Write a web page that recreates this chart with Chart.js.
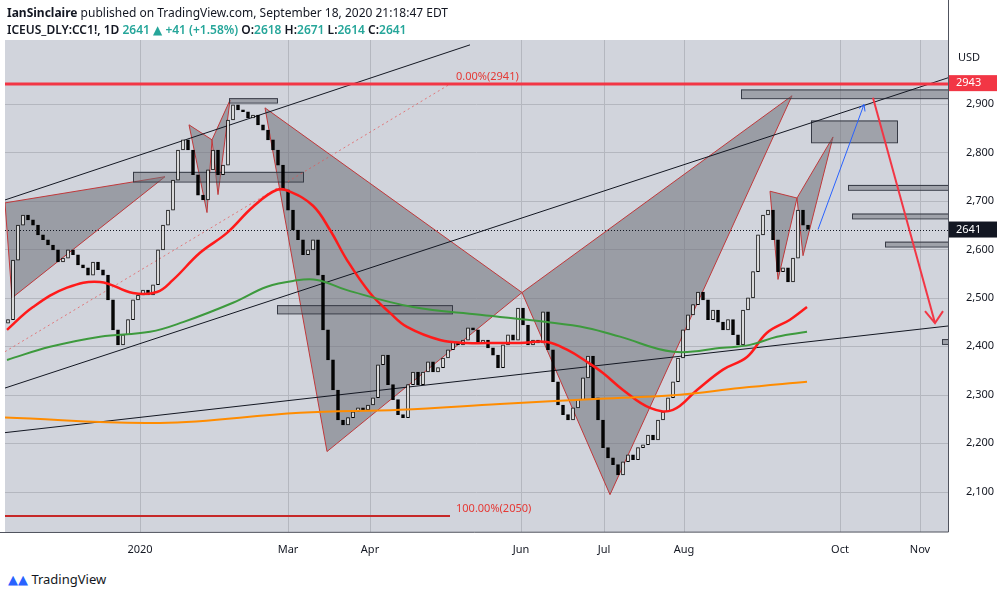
<!DOCTYPE html>
<html>
<head>
<meta charset="utf-8">
<script src="https://cdn.jsdelivr.net/npm/chart.js@4"></script>
<style>
  body { margin: 0; background: #fff; font-family: "Noto Sans", "DejaVu Sans", sans-serif; }
  #wrap { position: relative; width: 998px; height: 597px; }
  #hdr1 { position: absolute; left: 7px; top: 4px; font-size: 12px; color: #131722; }
  #hdr2 { position: absolute; left: 7px; top: 21px; font-size: 12px; color: #131722; font-weight: 600; }
  #hdr2 .g { color: #26a69a; }
  #foot { position: absolute; left: 8px; top: 570px; font-size: 13px; color: #131722; }
  canvas { position: absolute; left: 0; top: 0; }
</style>
</head>
<body>
<div id="wrap">
  <canvas id="c" width="998" height="560"></canvas>
  <div id="hdr1"><b>IanSinclaire</b> published on TradingView.com, September 18, 2020 21:18:47 EDT</div>
  <div id="hdr2">ICEUS_DLY:CC1!, 1D <span class="g">2641 ▲ +41 (+1.58%)</span> O:<span class="g">2618</span> H:<span class="g">2671</span> L:<span class="g">2614</span> C:<span class="g">2641</span></div>
  <div id="foot"><span style="color:#2962ff">&#9650;&#9650;</span> TradingView</div>
</div>
<script>
// daily closes, one bar per slot (Nov 2019 .. 18 Sep 2020)
const closes = [2455,2578,2650,2671,2661,2650,2630,2620,2609,2599,2574,2582,2599,2589,2568,2562,2547,2574,2558,2547,
  2496,2434,2403,2424,2455,2496,2506,2516,2506,2527,2599,2650,2681,2743,2805,2826,2805,2754,2712,2702,
  2764,2805,2754,2774,2867,2898,2888,2884,2871,2877,2857,2846,2826,2805,2774,2723,2681,2640,2620,2589,
  2599,2620,2547,2434,2372,2310,2248,2238,2253,2265,2273,2269,2279,2294,2362,2382,2321,2290,2259,2253,
  2321,2347,2321,2347,2368,2347,2356,2376,2393,2409,2403,2413,2438,2434,2407,2413,2397,2382,2356,2403,
  2424,2413,2479,2444,2403,2413,2407,2471,2393,2327,2279,2259,2248,2273,2290,2335,2380,2294,2248,2191,
  2170,2156,2135,2162,2176,2166,2191,2197,2217,2207,2248,2265,2294,2327,2376,2434,2465,2486,2512,2496,
  2455,2475,2450,2434,2455,2424,2403,2475,2500,2554,2630,2671,2681,2620,2554,2562,2533,2582,2681,2650,2641];
const opens = [2448].concat(closes.slice(0, -1));

// moving averages [slot, price]
const ma20 = [[-0.2,2434],[5,2481],[11.8,2521],[18.4,2533],[25,2510],[29.8,2512],[33,2537],[38.4,2593],[43.8,2634],
  [49,2688],[53.8,2723],[56.4,2719],[61,2690],[64.4,2640],[67.8,2578],[72.4,2510],[76.4,2469],[79.8,2440],[86.4,2413],
  [91.8,2407],[97.8,2407],[102.4,2407],[107.8,2409],[111.8,2393],[115.8,2368],[119,2345],[123,2310],[128.4,2273],
  [133,2269],[137.8,2310],[143,2352],[147.8,2378],[151.8,2428],[156.4,2455],[159.8,2481]];
const ma100 = [[-0.2,2372],[8.4,2399],[18.4,2420],[28.4,2430],[35,2450],[45,2490],[51.8,2523],[57,2535],[61.8,2537],
  [67.8,2516],[81,2481],[94.4,2465],[107.8,2450],[115.8,2438],[122.4,2420],[133,2389],[143,2397],[148.4,2403],
  [153.8,2420],[159.8,2430]];
const ma200 = [[-0.6,2253],[30.4,2242],[58.4,2263],[78.4,2269],[98.4,2281],[118.4,2292],[134.4,2300],[146.4,2314],[159.8,2327]];

const tickSlots = [26.4, 56, 72.4, 102.6, 119.2, 135.2, 166.4, 182.4];
const tickLabels = ['2020', 'Mar', 'Apr', 'Jun', 'Jul', 'Aug', 'Oct', 'Nov'];
const priceTicks = [2100, 2200, 2300, 2400, 2500, 2600, 2700, 2800, 2900];

// drawings in [slot, price]
const trendLines = [
  [[-0.6,2702],[92.4,3022]],
  [[-0.6,2314],[188,2954]],
  [[-0.6,2222],[188,2442]]
];
const patterns = [
  [[-0.6,2696],[31.4,2750],[0.8,2500]],
  [[36.2,2857],[40.8,2826],[39.8,2676]],
  [[40.8,2826],[44.4,2908],[42,2713]],
  [[51.4,2892],[63.8,2183],[102.8,2511]],
  [[102.8,2511],[120.4,2094],[156.8,2917]],
  [[152.4,2720],[154,2538],[157.8,2706]],
  [[157.8,2706],[165,2832],[159,2587]]
];
const boxes = [[44.2,53.8,2912,2903],[25,59,2760,2740],[53.8,88.8,2485,2468],[146.6,188,2930,2912],
  [160.6,177.8,2866,2821],[168,188,2733,2723],[168.8,188,2674,2664],[175.4,188,2616,2606],[186.8,188,2415,2405]];
const fib0 = 2941, fib100 = 2050, fibEnd = 88.4;
const lastPrice = 2641, markPrice = 2943;

const slots = closes.map((_, i) => i);

const drawings = {
  id: 'drawings',
  beforeDatasetsDraw(chart) {
    const { ctx, chartArea: a, scales: { x, y } } = chart;
    const P = p => [x.getPixelForValue(p[0]), y.getPixelForValue(p[1])];
    ctx.save();
    ctx.beginPath(); ctx.rect(a.left, a.top, a.right - a.left, a.bottom - a.top); ctx.clip();
    ctx.fillStyle = '#d1d4dc'; ctx.fillRect(a.left, a.top, a.right - a.left, a.bottom - a.top);
    // grid
    ctx.strokeStyle = '#b4b7bf'; ctx.lineWidth = 1;
    priceTicks.forEach(v => { const yy = Math.round(y.getPixelForValue(v)) + 0.5; ctx.beginPath(); ctx.moveTo(a.left, yy); ctx.lineTo(a.right, yy); ctx.stroke(); });
    tickSlots.forEach(v => { const xx = Math.round(x.getPixelForValue(v)) + 0.5; ctx.beginPath(); ctx.moveTo(xx, a.top); ctx.lineTo(xx, a.bottom); ctx.stroke(); });
    // patterns
    patterns.forEach(t => {
      ctx.beginPath(); t.forEach((p, k) => { const q = P(p); k ? ctx.lineTo(q[0], q[1]) : ctx.moveTo(q[0], q[1]); }); ctx.closePath();
      ctx.fillStyle = 'rgba(110,112,120,0.55)'; ctx.fill(); ctx.strokeStyle = '#c0393b'; ctx.lineWidth = 1; ctx.stroke();
    });
    boxes.forEach(b => {
      const p1 = P([b[0], b[2]]), p2 = P([b[1], b[3]]);
      ctx.fillStyle = 'rgba(110,112,120,0.5)'; ctx.fillRect(p1[0], p1[1], p2[0] - p1[0], p2[1] - p1[1]);
      ctx.strokeStyle = '#363a45'; ctx.strokeRect(p1[0] + 0.5, p1[1] + 0.5, p2[0] - p1[0], p2[1] - p1[1]);
    });
    // trend lines
    ctx.strokeStyle = '#131722'; ctx.lineWidth = 1;
    trendLines.forEach(l => { const a1 = P(l[0]), b1 = P(l[1]); ctx.beginPath(); ctx.moveTo(a1[0], a1[1]); ctx.lineTo(b1[0], b1[1]); ctx.stroke(); });
    ctx.setLineDash([2, 3]); ctx.strokeStyle = 'rgba(230,80,80,0.7)';
    let a1 = P([-0.6, 2389]), b1 = P([fibEnd, fib0]);
    ctx.beginPath(); ctx.moveTo(a1[0], a1[1]); ctx.lineTo(b1[0], b1[1]); ctx.stroke();
    ctx.strokeStyle = '#131722'; ctx.setLineDash([1, 2]);
    let yl = Math.round(y.getPixelForValue(lastPrice)) + 0.5;
    ctx.beginPath(); ctx.moveTo(a.left, yl); ctx.lineTo(a.right, yl); ctx.stroke();
    ctx.setLineDash([]);
    // fib lines
    ctx.strokeStyle = '#f23645'; ctx.lineWidth = 3;
    let yf = y.getPixelForValue(fib0);
    ctx.beginPath(); ctx.moveTo(a.left, yf); ctx.lineTo(a.right, yf); ctx.stroke();
    ctx.strokeStyle = '#c62828'; ctx.lineWidth = 2;
    let yf2 = y.getPixelForValue(fib100), xf2 = x.getPixelForValue(fibEnd);
    ctx.beginPath(); ctx.moveTo(a.left, yf2); ctx.lineTo(xf2, yf2); ctx.stroke();
    ctx.fillStyle = '#e53935'; ctx.font = '11px "Noto Sans", sans-serif'; ctx.textAlign = 'left';
    ctx.fillText('0.00%(2941)', xf2 + 6, yf - 4);
    ctx.fillText('100.00%(2050)', xf2 + 6, yf2 - 4);
    // projection arrows
    ctx.strokeStyle = '#2962ff'; ctx.lineWidth = 1;
    a1 = P([162, 2641]); b1 = P([171.2, 2899]);
    ctx.beginPath(); ctx.moveTo(a1[0], a1[1]); ctx.lineTo(b1[0], b1[1]); ctx.stroke();
    ctx.beginPath(); ctx.moveTo(b1[0] - 5, b1[1] + 4); ctx.lineTo(b1[0], b1[1]); ctx.lineTo(b1[0] + 1, b1[1] + 7); ctx.stroke();
    ctx.strokeStyle = '#f23645'; ctx.lineWidth = 2;
    a1 = P([173, 2913]); b1 = P([185.4, 2448]);
    ctx.beginPath(); ctx.moveTo(a1[0], a1[1]); ctx.lineTo(b1[0], b1[1]); ctx.stroke();
    ctx.beginPath(); ctx.moveTo(b1[0] - 10, b1[1] - 12); ctx.lineTo(b1[0], b1[1]); ctx.lineTo(b1[0] + 8, b1[1] - 12); ctx.stroke();
    ctx.restore();
  },
  afterDraw(chart) {
    const { ctx, chartArea: a, scales: { y } } = chart;
    ctx.save();
    ctx.strokeStyle = '#50535e'; ctx.lineWidth = 1;
    ctx.beginPath(); ctx.moveTo(a.right + 0.5, 0); ctx.lineTo(a.right + 0.5, a.bottom); ctx.lineTo(0, a.bottom + 0.5); ctx.stroke();
    ctx.fillStyle = '#131722'; ctx.font = '11px "Noto Sans", sans-serif'; ctx.textAlign = 'left'; ctx.textBaseline = 'middle';
    ctx.fillText('USD', a.right + 10, 58);
    [[markPrice, '#f23645'], [lastPrice, '#131722']].forEach(([v, c]) => {
      const yy = y.getPixelForValue(v);
      ctx.fillStyle = c; ctx.fillRect(a.right + 1, yy - 8, 48, 16);
      ctx.fillStyle = '#fff'; ctx.fillText(String(v), a.right + 8, yy);
    });
    ctx.restore();
  }
};

new Chart(document.getElementById('c'), {
  data: {
    labels: slots,
    datasets: [
      { type: 'line', data: ma200.map(p => ({ x: p[0], y: p[1] })), borderColor: '#ff8c00', borderWidth: 2, pointRadius: 0, tension: 0.4 },
      { type: 'line', data: ma100.map(p => ({ x: p[0], y: p[1] })), borderColor: '#3d9a3d', borderWidth: 2, pointRadius: 0, tension: 0.4 },
      { type: 'line', data: ma20.map(p => ({ x: p[0], y: p[1] })), borderColor: '#ff1a1a', borderWidth: 2.5, pointRadius: 0, tension: 0.4 },
      { type: 'bar', data: slots.map(i => ({ x: i, y: [opens[i], closes[i]] })),
        backgroundColor: slots.map(i => closes[i] >= opens[i] ? '#ffffff' : '#000000'),
        borderColor: '#000', borderWidth: 1, borderSkipped: false, barThickness: 3, minBarLength: 1 }
    ]
  },
  options: {
    responsive: false, animation: false,
    layout: { padding: { left: 5, top: 40, right: 0, bottom: 0 } },
    plugins: { legend: { display: false }, tooltip: { enabled: false } },
    scales: {
      x: { type: 'linear', offset: false, min: -0.6, max: 188, grid: { display: false, offset: false }, border: { display: false },
        afterBuildTicks: s => { s.ticks = tickSlots.map(v => ({ value: v })); },
        afterFit: s => { s.height = 28; },
        ticks: { autoSkip: false, maxRotation: 0, color: '#131722', font: { size: 11, family: 'Noto Sans' },
          callback: (v, k) => tickLabels[k] } },
      y: { position: 'right', min: 2017, max: 3032, grid: { display: false }, border: { display: false },
        afterBuildTicks: s => { s.ticks = priceTicks.map(v => ({ value: v })); },
        afterFit: s => { s.width = 50; },
        ticks: { color: '#131722', padding: 10, font: { size: 11, family: 'Noto Sans' } } }
    }
  },
  plugins: [drawings]
});
</script>
</body>
</html>
